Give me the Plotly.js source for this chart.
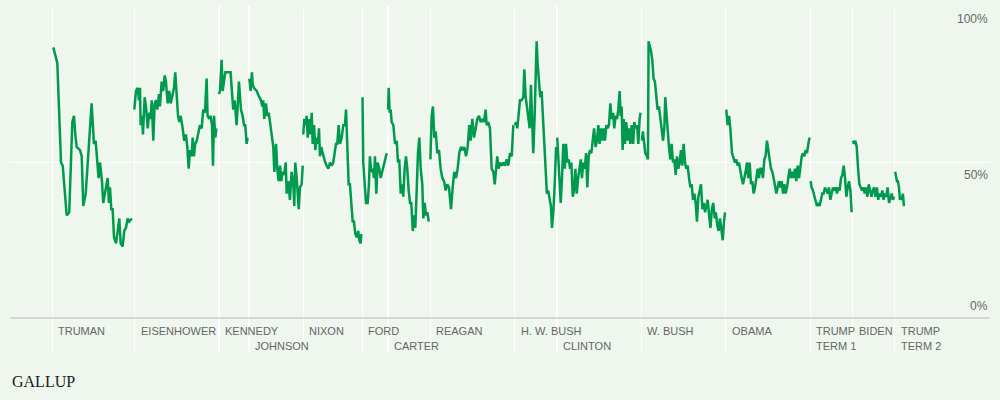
<!DOCTYPE html>
<html>
<head>
<meta charset="utf-8">
<script src="https://cdn.plot.ly/plotly-3.0.1.min.js"></script>
<style>
  html, body { margin: 0; padding: 0; background: #eff6ee; }
  #chart { width: 1000px; height: 400px; }
</style>
</head>
<body>
<div id="chart"></div>
<script>
// ---- Data: Gallup presidential job approval (%) ----
const trumanX = [1945.36,1945.74,1946.09,1946.25,1946.63,1946.87,1947.16,1947.32,1947.44,1947.57,1947.89,1948.05,1948.20,1948.43,1948.99,1949.21,1949.37,1949.52,1949.65,1949.78,1949.97,1950.09,1950.28,1950.51,1950.63,1950.73,1950.85,1950.98,1951.11,1951.30,1951.46,1951.61,1951.74,1951.93,1952.08,1952.24,1952.40,1952.55,1952.81];
const trumanY = [87,82,50,49,33,34,63,65,59,55,54,52,36,40,69,56,57,51,45,50,44,37,41,45,37,42,35,35,26,24,28,32,24,23,28,29,32,31,32];

const eisenhowerX = [1953.03,1953.19,1953.35,1953.47,1953.57,1953.63,1953.76,1953.85,1954.01,1954.14,1954.30,1954.45,1954.58,1954.68,1954.83,1954.96,1955.08,1955.21,1955.37,1955.46,1955.62,1955.77,1955.91,1956.03,1956.19,1956.34,1956.48,1956.63,1956.79,1956.91,1957.01,1957.17,1957.29,1957.42,1957.61,1957.76,1957.92,1958.05,1958.18,1958.30,1958.46,1958.56,1958.68,1958.80,1958.94,1959.09,1959.25,1959.41,1959.56,1959.72,1959.88,1959.97,1960.13,1960.26,1960.39,1960.48,1960.58,1960.70,1960.80];
const eisenhowerY = [67,73,74,70,74,62,65,59,71,68,61,66,64,70,57,69,70,67,72,68,76,73,78,76,69,73,69,71,74,79,72,65,63,65,61,57,59,55,48,54,52,58,52,56,57,59,62,61,67,66,77,65,64,65,62,49,65,58,61];

const kennedyX = [1961.05,1961.14,1961.30,1961.40,1961.52,1961.65,1961.92,1962.15,1962.25,1962.40,1962.53,1962.72,1962.94,1963.13,1963.29,1963.42,1963.54,1963.67,1963.76];
const kennedyY = [72,73,83,73,76,79,79,79,74,67,70,62,76,67,65,62,62,56,58];

const johnsonX = [1963.92,1964.05,1964.17,1964.24,1964.36,1964.62,1964.87,1965.03,1965.15,1965.24,1965.34,1965.50,1965.62,1965.76,1965.88,1966.04,1966.19,1966.29,1966.45,1966.57,1966.70,1966.83,1966.95,1967.08,1967.23,1967.37,1967.46,1967.61,1967.77,1967.93,1968.09,1968.18,1968.27,1968.41,1968.60,1968.72,1968.88,1968.98];
const johnsonY = [77,73,79,75,74,73,71,70,68,70,64,69,65,66,63,58,55,47,56,48,44,49,44,47,46,50,40,44,38,47,43,36,50,45,35,42,43,49];

const nixonX = [1969.03,1969.13,1969.26,1969.35,1969.45,1969.57,1969.70,1969.83,1969.92,1970.05,1970.17,1970.30,1970.42,1970.52,1970.61,1970.74,1970.87,1970.99,1971.12,1971.25,1971.40,1971.56,1971.72,1971.87,1972.03,1972.13,1972.25,1972.38,1972.51,1972.67,1972.82,1972.98,1973.08,1973.20,1973.33,1973.45,1973.58,1973.71,1973.83,1973.96,1974.09,1974.24,1974.33,1974.47,1974.53];
const nixonY = [59,64,62,65,58,64,59,66,56,62,54,58,56,61,52,55,53,51,50,49,48,50,49,50,53,56,56,62,56,58,62,62,67,52,43,43,36,31,31,27,26,28,25,24,27];

const fordX = [1974.64,1974.71,1974.85,1974.97,1975.13,1975.25,1975.34,1975.47,1975.60,1975.73,1975.82,1975.95,1976.07,1976.23,1976.36,1976.55,1976.74,1976.93];
const fordY = [71,50,43,37,37,43,52,47,48,45,52,40,50,48,45,48,51,53];

const carterX = [1977.07,1977.12,1977.21,1977.31,1977.40,1977.56,1977.72,1977.88,1978.00,1978.12,1978.26,1978.38,1978.50,1978.63,1978.76,1978.88,1979.01,1979.14,1979.26,1979.40,1979.52,1979.64,1979.77,1979.89,1980.02,1980.15,1980.30,1980.40,1980.53,1980.65,1980.78,1980.91];
const carterY = [67,74,66,67,63,62,56,57,50,51,40,43,39,48,52,48,41,37,37,28,33,29,41,53,58,48,43,32,37,33,34,31];

const reaganX = [1981.07,1981.19,1981.31,1981.44,1981.57,1981.72,1981.88,1982.04,1982.20,1982.36,1982.52,1982.67,1982.83,1983.02,1983.18,1983.33,1983.49,1983.65,1983.80,1983.97,1984.13,1984.28,1984.44,1984.60,1984.75,1984.88,1985.04,1985.20,1985.36,1985.51,1985.67,1985.83,1985.98,1986.14,1986.30,1986.40,1986.55,1986.71,1986.87,1987.03,1987.16,1987.28,1987.40,1987.53,1987.66,1987.82,1987.97,1988.13,1988.29,1988.44,1988.61,1988.77,1988.92];
const reaganY = [51,65,68,58,60,53,54,48,45,44,41,43,42,35,42,47,45,48,53,55,54,55,52,55,62,57,64,58,61,64,65,63,64,63,67,62,63,61,48,47,43,49,52,48,50,49,50,49,51,49,53,52,62];

const hwBushX = [1989.08,1989.17,1989.30,1989.43,1989.55,1989.71,1989.87,1989.96,1990.09,1990.21,1990.34,1990.47,1990.59,1990.72,1990.81,1990.94,1991.03,1991.13,1991.22,1991.35,1991.47,1991.60,1991.72,1991.85,1991.98,1992.10,1992.22,1992.36,1992.48,1992.58,1992.71,1992.84,1992.97];
const hwBushY = [62,63,61,66,70,70,71,80,71,68,65,61,75,62,53,65,83,89,82,77,71,73,65,57,49,40,41,38,36,29,34,43,55];

const clintonX = [1993.08,1993.16,1993.28,1993.41,1993.53,1993.66,1993.80,1993.91,1994.04,1994.17,1994.30,1994.42,1994.55,1994.67,1994.80,1994.93,1995.06,1995.17,1995.31,1995.42,1995.55,1995.69,1995.81,1995.93,1996.06,1996.18,1996.31,1996.44,1996.57,1996.71,1996.84,1996.97,1997.09,1997.22,1997.35,1997.47,1997.60,1997.73,1997.85,1997.98,1998.11,1998.23,1998.37,1998.48,1998.61,1998.74,1998.86,1998.99,1999.08,1999.18,1999.27,1999.37,1999.50,1999.62,1999.75,1999.88,2000.00,2000.13,2000.27,2000.38,2000.51,2000.64,2000.76,2000.88,2000.97];
const clintonY = [58,52,44,37,45,56,48,56,50,51,48,50,39,41,48,40,45,48,51,45,50,48,53,42,52,54,53,57,61,55,57,62,56,61,57,61,57,62,61,62,69,64,66,61,65,64,67,73,65,68,54,64,56,63,57,61,56,62,56,63,61,62,56,64,66];

const wBushX = [2001.10,2001.19,2001.32,2001.42,2001.58,2001.67,2001.73,2001.82,2001.95,2002.08,2002.20,2002.33,2002.45,2002.58,2002.71,2002.84,2002.96,2003.10,2003.22,2003.31,2003.41,2003.53,2003.66,2003.79,2003.91,2004.04,2004.17,2004.30,2004.42,2004.55,2004.67,2004.80,2004.92,2005.05,2005.18,2005.30,2005.43,2005.56,2005.69,2005.81,2005.94,2006.06,2006.19,2006.31,2006.44,2006.57,2006.69,2006.82,2006.95,2007.08,2007.20,2007.33,2007.46,2007.59,2007.72,2007.85,2008.00,2008.10,2008.23,2008.36,2008.49,2008.62,2008.75,2008.87,2008.97];
const wBushY = [57,60,56,53,52,51,89,88,86,83,77,76,70,67,68,63,61,57,61,71,66,60,55,51,56,50,51,46,52,48,50,54,49,56,50,48,49,45,42,43,38,40,37,31,39,41,43,35,37,34,36,38,33,29,35,37,32,34,30,28,32,29,25,31,34];

const obamaX = [2009.09,2009.21,2009.35,2009.47,2009.63,2009.79,2009.91,2010.04,2010.16,2010.29,2010.42,2010.54,2010.67,2010.80,2010.92,2011.05,2011.17,2011.30,2011.43,2011.55,2011.68,2011.81,2011.93,2012.06,2012.18,2012.31,2012.43,2012.56,2012.69,2012.81,2012.94,2013.07,2013.19,2013.32,2013.45,2013.57,2013.70,2013.83,2013.95,2014.08,2014.21,2014.33,2014.46,2014.58,2014.71,2014.84,2014.96,2015.09,2015.22,2015.34,2015.47,2015.60,2015.72,2015.85,2015.98,2016.10,2016.23,2016.35,2016.48,2016.61,2016.73,2016.86,2016.98];
const obamaY = [67,62,65,61,53,51,50,51,49,50,47,45,43,45,47,50,45,50,43,44,40,42,45,48,45,48,48,45,51,52,57,53,51,48,47,45,43,40,42,44,42,44,40,43,40,42,45,48,45,47,45,48,44,49,45,48,52,53,52,54,53,56,58];

const trump1X = [2017.08,2017.16,2017.29,2017.42,2017.55,2017.67,2017.80,2017.93,2018.05,2018.18,2018.31,2018.43,2018.56,2018.69,2018.81,2018.94,2019.07,2019.19,2019.32,2019.44,2019.57,2019.70,2019.82,2019.95,2020.08,2020.21,2020.33,2020.46,2020.58,2020.71,2020.84,2020.96];
const trump1Y = [44,42,41,39,38,36,37,36,38,40,40,42,41,40,42,38,40,42,41,42,40,42,41,45,46,49,45,39,42,44,41,34];

const bidenX = [2021.08,2021.18,2021.31,2021.44,2021.57,2021.69,2021.82,2021.95,2022.07,2022.20,2022.33,2022.45,2022.58,2022.71,2022.84,2022.96,2023.09,2023.22,2023.35,2023.47,2023.60,2023.73,2023.86,2023.98,2024.11,2024.24,2024.36,2024.50,2024.62,2024.75,2024.87,2024.97];
const bidenY = [57,56,57,55,48,43,42,41,42,40,42,39,43,41,39,41,42,39,42,38,40,39,41,38,40,39,42,37,39,40,38,39];

const trump2X = [2025.08,2025.15,2025.25,2025.34,2025.44,2025.53,2025.63,2025.72,2025.81,2025.91];
const trump2Y = [47,45,44,44,42,38,39,38,40,36];

// Term start dates (vertical separators) and the two label rows
const termStarts = [1945.28,1953.05,1961.05,1963.89,1969.05,1974.61,1977.05,1981.05,1989.05,1993.05,2001.05,2009.05,2017.05,2021.05,2025.05];
const labelRow1 = ["TRUMAN","EISENHOWER","KENNEDY","","NIXON","FORD","","REAGAN","H. W. BUSH","","W. BUSH","OBAMA","TRUMP","BIDEN","TRUMP"];
const labelRow2 = ["","","","JOHNSON","","","CARTER","","","CLINTON","","","TERM 1","","TERM 2"];
const yTickVals = [100, 50, 0];
const yTickText = ["100%", "50%", "0%"];

// ---- Build ----
const series = [
  [trumanX, trumanY], [eisenhowerX, eisenhowerY], [kennedyX, kennedyY], [johnsonX, johnsonY],
  [nixonX, nixonY], [fordX, fordY], [carterX, carterY], [reaganX, reaganY], [hwBushX, hwBushY],
  [clintonX, clintonY], [wBushX, wBushY], [obamaX, obamaY], [trump1X, trump1Y], [bidenX, bidenY],
  [trump2X, trump2Y]
];
const GREEN = '#009a4e';
const traces = series.map(([xs, ys]) => ({
  x: xs, y: ys, type: 'scatter', mode: 'lines',
  line: { color: GREEN, width: 2.5, shape: 'linear' },
  hoverinfo: 'skip', showlegend: false
}));

const labelFont = { family: 'Liberation Sans, Arial, sans-serif', size: 11, color: '#666666' };
const annotations = [];
termStarts.forEach((t, i) => {
  if (labelRow1[i]) annotations.push({ x: t, y: -4.2, xref: 'x', yref: 'y', text: labelRow1[i], showarrow: false, xanchor: 'left', yanchor: 'middle', xshift: 4, font: labelFont });
  if (labelRow2[i]) annotations.push({ x: t, y: -9.0, xref: 'x', yref: 'y', text: labelRow2[i], showarrow: false, xanchor: 'left', yanchor: 'middle', xshift: 4, font: labelFont });
});
const pctFont = { family: 'Liberation Sans, Arial, sans-serif', size: 12, color: '#666666' };
yTickVals.forEach((v, i) => {
  annotations.push({
    x: 1, y: v, xref: 'paper', yref: 'y', text: yTickText[i], showarrow: false,
    xanchor: 'right', yanchor: v === 0 ? 'bottom' : 'top', yshift: v === 0 ? 3 : -3, font: pctFont
  });
});
annotations.push({
  x: 0, y: -0.081, xref: 'paper', yref: 'paper', text: 'GALLUP', showarrow: false,
  xanchor: 'left', yanchor: 'middle',
  font: { family: 'Liberation Serif, Times New Roman, serif', size: 16, color: '#1a1a1a' }
});

const layout = {
  width: 1000, height: 400,
  margin: { l: 10, r: 10, t: 6, b: 47, pad: 0 },
  paper_bgcolor: '#eff6ee', plot_bgcolor: '#eff6ee',
  showlegend: false,
  xaxis: {
    range: [1941.26, 2034.06], tickvals: termStarts, showticklabels: false, ticks: '',
    showgrid: true, gridcolor: '#ffffff', gridwidth: 1.2, zeroline: false, showline: false, fixedrange: true
  },
  yaxis: {
    range: [-11.25, 100.32], tickvals: [50, 100], showticklabels: false, ticks: '',
    showgrid: true, gridcolor: '#ffffff', gridwidth: 1.2,
    zeroline: true, zerolinecolor: '#d6d6d6', zerolinewidth: 2, showline: false, fixedrange: true
  },
  annotations: annotations
};

Plotly.newPlot('chart', traces, layout, { displayModeBar: false, staticPlot: true });
</script>
</body>
</html>
